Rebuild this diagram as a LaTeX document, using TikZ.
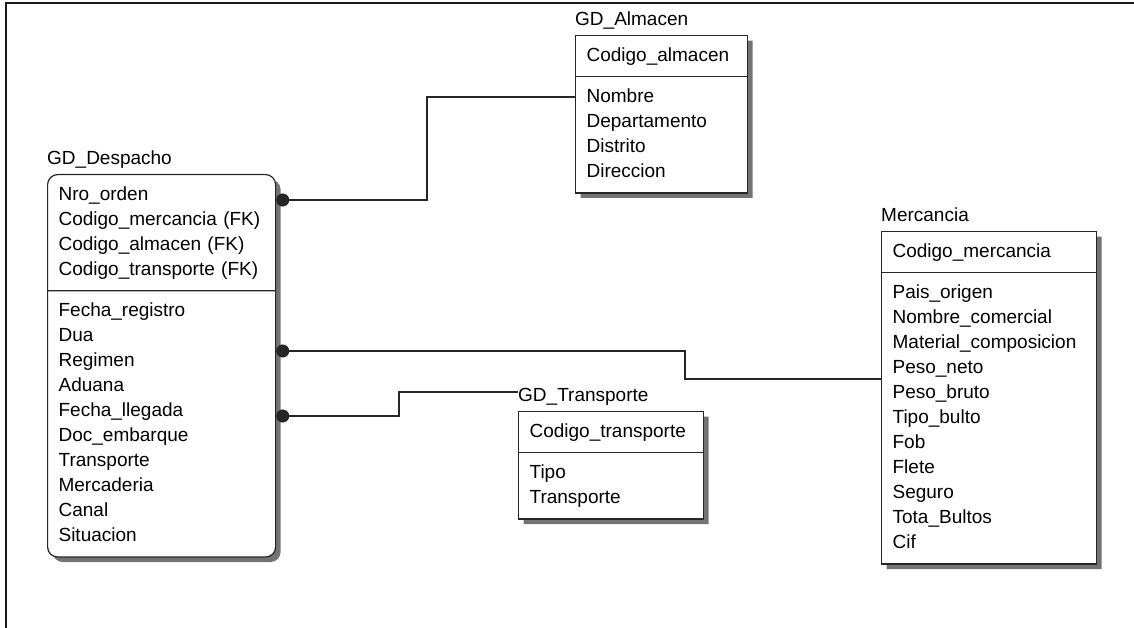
\documentclass[tikz,border=0pt]{standalone}
\usepackage{fontspec}
\setmainfont{Liberation Sans}
\usetikzlibrary{shapes,arrows.meta,positioning,shadows,calc}
\tikzset{basic/.style={draw=black!85,line width=1.2pt,fill=white}}
\tikzset{entity/.style={basic,rectangle split,rectangle split parts=2,text width=#1,align=left,inner xsep=11pt,inner ysep=7.5pt,anchor=north west,drop shadow={shadow xshift=5pt,shadow yshift=-5pt,fill=black!55,opacity=1}}}
\tikzset{title/.style={inner sep=0pt,text depth=0pt}}
\tikzset{link/.style={draw=black!85,line width=1.3pt}}
\tikzset{fk/.style={{Circle[length=13pt]}-}}
\newcommand{\fld}[1]{\strut#1}

\begin{document}
\begin{tikzpicture}[x=1pt,y=-1pt,font=\fontsize{19}{25}\selectfont]
    \useasboundingbox (0,0) rectangle (1134,628);
    \draw[line width=2pt,black!90] (1134,3) -- (6,3) -- (6,628);

    \node[entity=150pt] (alm) at (575,35) {\fld{Codigo\_almacen}
        \nodepart{second}\fld{Nombre}\\\fld{Departamento}\\\fld{Distrito}\\\fld{Direccion}};
    \node[entity=206pt,rounded corners=10pt] (des) at (47,174) {\fld{Nro\_orden}\\\fld{Codigo\_mercancia (FK)}\\\fld{Codigo\_almacen (FK)}\\\fld{Codigo\_transporte (FK)}
        \nodepart{second}\fld{Fecha\_registro}\\\fld{Dua}\\\fld{Regimen}\\\fld{Aduana}\\\fld{Fecha\_llegada}\\\fld{Doc\_embarque}\\\fld{Transporte}\\\fld{Mercaderia}\\\fld{Canal}\\\fld{Situacion}};
    \node[entity=193pt] (mer) at (881,231) {\fld{Codigo\_mercancia}
        \nodepart{second}\fld{Pais\_origen}\\\fld{Nombre\_comercial}\\\fld{Material\_composicion}\\\fld{Peso\_neto}\\\fld{Peso\_bruto}\\\fld{Tipo\_bulto}\\\fld{Fob}\\\fld{Flete}\\\fld{Seguro}\\\fld{Tota\_Bultos}\\\fld{Cif}};
    \node[entity=163pt] (tra) at (518,411) {\fld{Codigo\_transporte}
        \nodepart{second}\fld{Tipo}\\\fld{Transporte}};

    \node[title,above right=9pt and 0pt of alm.north west] (almt) {GD\_Almacen};
    \node[title,above right=9pt and 0pt of des.north west] (dest) {GD\_Despacho};
    \node[title,above right=9pt and 0pt of mer.north west] (mert) {Mercancia};
    \node[title,above right=9pt and 0pt of tra.north west] (trat) {GD\_Transporte};

    \coordinate (d1) at ($(des.north east)+(0,26)$);
    \coordinate (d2) at ($(des.north east)+(0,177)$);
    \coordinate (d3) at ($(des.north east)+(0,242)$);
    \coordinate (b1) at (427,97);
    \coordinate (b2) at (685,379);
    \coordinate (b3) at (399,392);

        \path[link,fk] (d1) -| (b1) -- (b1 -| alm.west);
        \path[link,fk] (d2) -| (b2) -- (b2 -| mer.west);
        \path[link,fk] (d3) -| (b3) -- (b3 -| trat.west);
\end{tikzpicture}
\end{document}
